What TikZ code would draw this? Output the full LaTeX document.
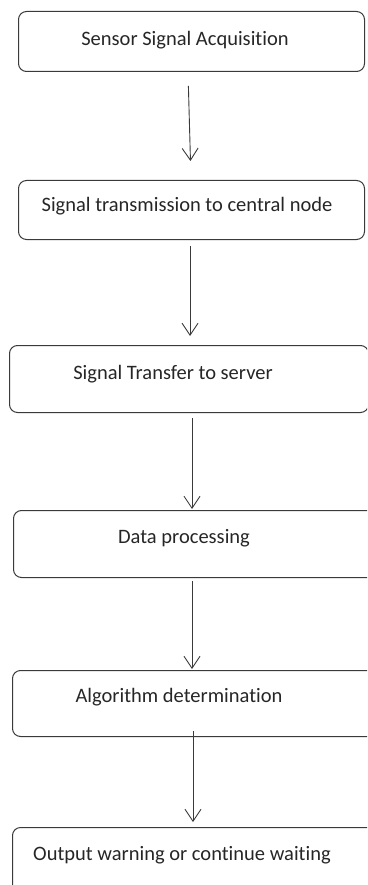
\documentclass[tikz,border=0pt]{standalone}
\usepackage{fontspec}
\setmainfont{Carlito}[Ligatures=CommonOff]
\usetikzlibrary{arrows.meta}
\definecolor{lin}{HTML}{3A3A3A}
\definecolor{txt}{HTML}{262626}
\tikzset{
  box/.style={draw=lin, line width=1pt, rounded corners=8pt, rectangle, inner sep=0pt, anchor=north west},
  lbl/.style={text=txt, font=\fontsize{20.5pt}{24pt}\selectfont, inner sep=0pt},
  arr/.style={draw=lin, line width=0.9pt, -{Straight Barb[length=12pt,width=16pt,line width=0.9pt]}}
}
\begin{document}
\begin{tikzpicture}[x=1pt,y=-1pt]
\clip (0,0) rectangle (367,885);
\useasboundingbox (0,0) rectangle (367,885);
% boxes
\node[box, minimum width=346pt, minimum height=60pt] (b1) at (18,11) {};
\node[box, minimum width=346pt, minimum height=59pt] (b2) at (18,180) {};
\node[box, minimum width=359pt, minimum height=67pt] (b3) at (9,345) {};
\node[box, minimum width=380pt, minimum height=67pt] (b4) at (13,510) {};
\node[box, minimum width=380pt, minimum height=66pt] (b5) at (12,670) {};
\node[box, minimum width=380pt, minimum height=80pt] (b6) at (12,827) {};
% labels
\node[lbl] (t1) at (185,40) {Sensor Signal Acquisition};
\node[lbl] (t2) at (187,206) {Signal transmission to central node};
\node[lbl] (t3) at (173,374) {Signal Transfer to server};
\node[lbl] (t4) at (184,538) {Data processing};
\node[lbl] (t5) at (179,697) {Algorithm determination};
\node[lbl] (t6) at (182,855) {Output warning or continue waiting};
% connector x positions
\coordinate (x1s) at (188,0);
\coordinate (x1e) at (191,0);
\coordinate (x2) at (190,0);
\coordinate (x3) at (192,0);
\coordinate (x4) at (192,0);
\coordinate (x5) at (193,0);
% connectors
\draw[arr, shorten <=14pt, shorten >=19pt] (b1.south -| x1s) -- (b2.north -| x1e);
\draw[arr, shorten <=6pt, shorten >=9pt] (b2.south -| x2) -- (b3.north -| x2);
\draw[arr, shorten <=5pt, shorten >=1pt] (b3.south -| x3) -- (b4.north -| x3);
\draw[arr, shorten <=3pt, shorten >=1pt] (b4.south -| x4) -- (b5.north -| x4);
\draw[arr, shorten <=-6pt, shorten >=5pt] (b5.south -| x5) -- (b6.north -| x5);
\end{tikzpicture}
\end{document}
